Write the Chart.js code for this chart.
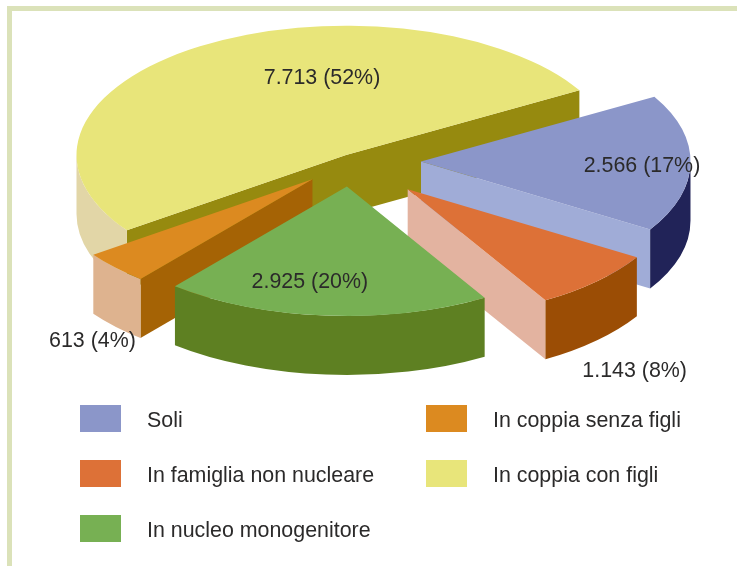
<!DOCTYPE html>
<html>
<head>
<meta charset="utf-8">
<script src="https://cdn.jsdelivr.net/npm/chart.js@4"></script>
<style>
html,body{margin:0;padding:0;background:#fff;overflow:hidden}
#stage{position:relative;width:737px;height:566px;font-family:"Liberation Sans",Arial,sans-serif;color:#2b2a2a}
#frame{position:absolute;left:7px;top:6px;right:0;bottom:0;border-left:5px solid #dbe2b9;border-top:5px solid #dbe2b9}
canvas{position:absolute;left:0;top:0}
.sw{position:absolute;width:41px;height:27px}
.lb{position:absolute;font-size:21.4px;line-height:27px;white-space:nowrap}
</style>
</head>
<body>
<div id="stage">
<div id="frame"></div>
<canvas id="c" width="737" height="566"></canvas>
</div>
<script>
// Data
const categories = ['Soli','In famiglia non nucleare','In nucleo monogenitore','In coppia senza figli','In coppia con figli'];
const values = [2566,1143,2925,613,7713];
// Styles
const topColors = ['#8b96c9','#dd7137','#77b053','#dc8a20','#e8e57a'];
const outerWallColors = ['#212358','#9b4d05','#5e8022','#deb38f','#e2d6a7'];
const cutWallColors = ['#a0acd7','#e3b3a0','#5e8022','#a56305','#968a0f'];
const explode = [74,88,66,50,0];
const sliceNudge = [[0,6],[-1,4],[5,0],[2,8],[-1,0]];
const labelShift = [[221,5],[227,182],[-37,96],[-220,162],[-24,-77]];
const legendCells = [[80,405],[80,460],[80,515],[426,405],[426,460]];
const legendOrder = [0,1,2,3,4];
const squash = 0.48, depth = 59, pieRadius = 269.5;

const total = values.reduce((a,b)=>a+b,0);
const fmt = v => String(v).replace(/\B(?=(\d{3})+$)/g,'.');
const labelText = i => fmt(values[i])+' ('+Math.round(values[i]/total*100)+'%)';

const stage = document.getElementById('stage');
legendOrder.forEach(i=>{
  const [x,y]=legendCells[i];
  const s=document.createElement('div');s.className='sw';s.style.left=x+'px';s.style.top=y+'px';s.style.background=topColors[i];stage.appendChild(s);
  const t=document.createElement('div');t.className='lb';t.style.left=(x+67)+'px';t.style.top=(y+2)+'px';t.textContent=categories[i];stage.appendChild(t);
});

const pie3d = {
  id:'pie3d',
  afterDatasetsUpdate(chart){
    chart.getDatasetMeta(0).data.forEach((a,i)=>{
      const mid=(a.startAngle+a.endAngle)/2;
      a.x += Math.cos(mid)*explode[i] + sliceNudge[i][0];
      a.y += Math.sin(mid)*explode[i] + sliceNudge[i][1]/squash;
    });
  },
  beforeDatasetsDraw(chart){
    const ctx=chart.ctx, ca=chart.chartArea;
    const cy=(ca.top+ca.bottom)/2, cx=(ca.left+ca.right)/2;
    const Y=p=>cy+(p-cy)*squash;
    const arcs=chart.getDatasetMeta(0).data;
    const info=arcs.map((a,i)=>{
      const mid=(a.startAngle+a.endAngle)/2;
      const px=a.x, py=Y(a.y);
      return {i,a,px,py,sort:py+Math.sin(mid)*a.outerRadius*0.5*squash};
    }).sort((p,q)=>p.sort-q.sort);
    info.forEach(({i,a,px,py})=>{
      const r=a.outerRadius, rk=r*squash;
      const radial=(ang)=>{
        const ex=px+Math.cos(ang)*r, ey=py+Math.sin(ang)*rk;
        ctx.beginPath();ctx.moveTo(px,py);ctx.lineTo(ex,ey);ctx.lineTo(ex,ey+depth);ctx.lineTo(px,py+depth);ctx.closePath();
        ctx.fillStyle=cutWallColors[i];ctx.fill();
      };
      if(-Math.cos(a.startAngle)>0) radial(a.startAngle);
      if(Math.cos(a.endAngle)>0) radial(a.endAngle);
      const a0=Math.max(a.startAngle,0), a1=Math.min(a.endAngle,Math.PI);
      if(a1>a0){
        ctx.beginPath();
        ctx.ellipse(px,py,r,rk,0,a0,a1,false);
        ctx.ellipse(px,py+depth,r,rk,0,a1,a0,true);
        ctx.closePath();
        ctx.fillStyle=outerWallColors[i];ctx.fill();
      }
    });
    ctx.save();
    ctx.translate(cx,cy);ctx.scale(1,squash);ctx.translate(-cx,-cy);
  },
  afterDatasetsDraw(chart){
    const ctx=chart.ctx, ca=chart.chartArea;
    ctx.restore();
    const cy=(ca.top+ca.bottom)/2;
    ctx.save();
    ctx.font='21.4px "Liberation Sans",Arial,sans-serif';
    ctx.fillStyle='#2b2a2a';ctx.textAlign='center';ctx.textBaseline='middle';
    chart.getDatasetMeta(0).data.forEach((a,i)=>{
      const py=cy+(a.y-cy)*squash;
      ctx.fillText(labelText(i),a.x+labelShift[i][0],py+labelShift[i][1]);
    });
    ctx.restore();
  }
};

new Chart(document.getElementById('c'),{
  type:'pie',
  data:{labels:categories,datasets:[{
    data:values,
    backgroundColor:topColors,
    borderWidth:0,
    radius:pieRadius,
    clip:false
  }]},
  options:{
    responsive:false,
    animation:false,
    events:[],
    rotation:60,
    layout:{padding:{left:0,top:0,right:43,bottom:256}},
    plugins:{legend:{display:false},tooltip:{enabled:false}}
  },
  plugins:[pie3d]
});
</script>
</body>
</html>
